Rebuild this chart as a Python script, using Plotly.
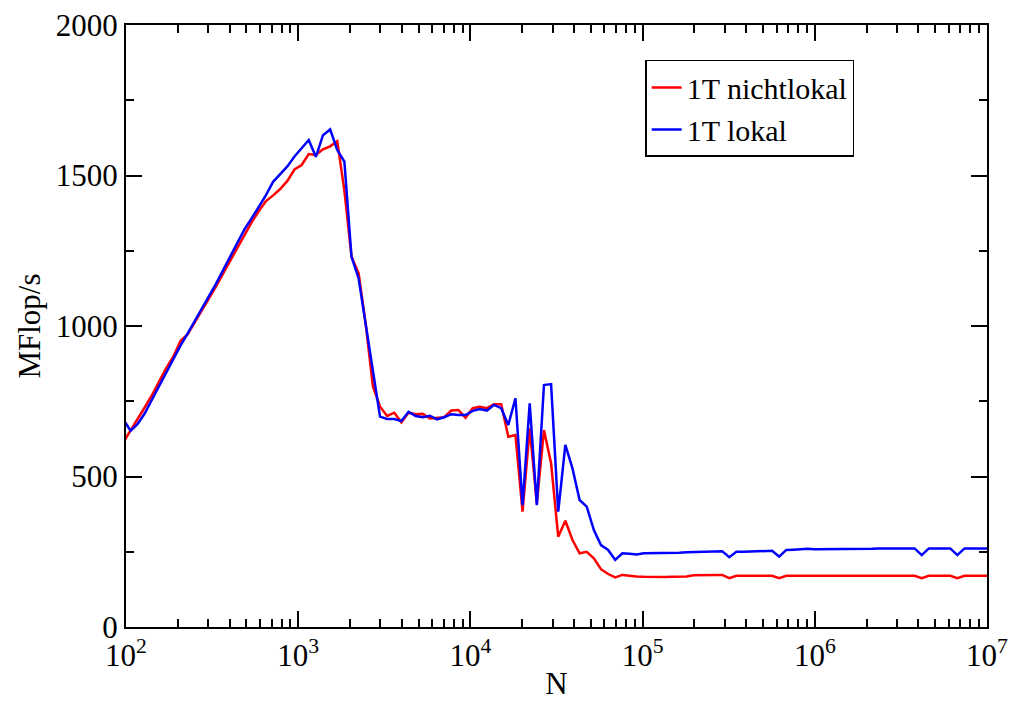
import plotly.graph_objects as go

N = [96.6, 106.3, 116.9, 128.6, 141.4, 155.6, 171.1, 188.2, 207.1, 227.8,
     250.6, 275.6, 303.2, 333.5, 366.8, 403.5, 443.9, 488.3, 537.1, 590.8,
     649.9, 714.9, 786.4, 865.0, 951.5, 1046.7, 1151.3, 1266.5, 1393.1, 1532.4,
     1685.7, 1854.2, 2039.7, 2243.6, 2468.0, 2714.8, 2986.3, 3284.9, 3613.4, 3974.8,
     4372.2, 4809.5, 5290.4, 5819.5, 6401.4, 7041.6, 7745.7, 8520.3, 9372.3, 10309.5,
     11340, 12474, 13722, 15094, 16603, 18264, 20090, 22099, 24309, 26740,
     29414, 32355, 35591, 39150, 43065, 47371, 52108, 57319, 63051, 69356,
     76292, 83921, 92313, 101544, 111699, 122869, 135156, 148671, 163538, 179892,
     197881, 217669, 239436, 263380, 289718, 318690, 350559, 385615, 424176, 466594,
     513253, 564578, 621036, 683140, 751454, 826599, 909259, 1000185, 1100204, 1210224,
     1331246, 1464371, 1610808, 1771889, 1949078, 2143986, 2358384, 2594223, 2853645, 3139010,
     3452911, 3798202, 4178022, 4595825, 5055407, 5560948, 6117043, 6728747, 7401622, 8141784,
     8955963, 9851559, 10836715]

nichtlokal = [614, 652, 690, 730, 770, 815, 860, 898, 950, 972,
              1012, 1050, 1090, 1132, 1175, 1218, 1262, 1305, 1345, 1382,
              1415, 1434, 1455, 1482, 1520, 1535, 1571, 1568, 1587, 1597,
              1614, 1450, 1230, 1175, 1005, 800, 732, 701, 712, 680,
              712, 707, 708, 693, 695, 697, 719, 721, 695, 727,
              732, 727, 740, 740, 632, 638, 383, 660, 411, 654,
              544, 300, 353, 289, 245, 250, 228, 192, 176, 165,
              173, 170, 168, 167, 166, 166, 166, 167, 167, 168,
              172, 173, 173, 173, 173, 162, 170, 170, 170, 170,
              170, 170, 162, 170, 170, 170, 170, 170, 170, 170,
              170, 170, 170, 170, 170, 170, 170, 170, 170, 170,
              170, 170, 162, 170, 170, 170, 170, 162, 170, 170,
              170, 170, 170]

lokal = [689, 652, 675, 710, 755, 800, 850, 892, 935, 975,
         1015, 1057, 1099, 1141, 1185, 1230, 1276, 1322, 1358, 1395,
         1435, 1479, 1505, 1530, 1563, 1592, 1618, 1562, 1634, 1653,
         1585, 1546, 1230, 1158, 1003, 851, 699, 691, 691, 684,
         715, 701, 697, 702, 690, 697, 707, 704, 704, 718,
         724, 719, 738, 727, 671, 760, 405, 743, 405, 804,
         807, 383, 605, 527, 422, 400, 322, 272, 256, 223,
         245, 243, 241, 245, 245, 245, 245, 245, 247, 248,
         249, 250, 251, 252, 252, 232, 250, 250, 251, 252,
         253, 253, 234, 256, 257, 259, 260, 258, 258, 258,
         259, 260, 260, 260, 260, 260, 261, 261, 261, 261,
         261, 261, 239, 261, 261, 261, 261, 239, 261, 261,
         261, 261, 261]

x_tick_vals = [1e2, 1e3, 1e4, 1e5, 1e6, 1e7]
x_tick_text = ["10<sup>2</sup>", "10<sup>3</sup>", "10<sup>4</sup>",
               "10<sup>5</sup>", "10<sup>6</sup>", "10<sup>7</sup>"]
x_minor_vals = [m * 10 ** e for e in range(2, 7) for m in range(2, 10)]

FONT = "Liberation Serif"
FS = 31

fig = go.Figure()
fig.add_trace(go.Scatter(x=N, y=nichtlokal, mode="lines", name="1T nichtlokal",
                         line=dict(color="#ff0000", width=2.5)))
fig.add_trace(go.Scatter(x=N, y=lokal, mode="lines", name="1T lokal",
                         line=dict(color="#0000ff", width=2.5)))

axis_common = dict(showline=True, linecolor="black", linewidth=2, mirror="allticks",
                   ticks="inside", tickcolor="black", tickwidth=1.5, ticklen=16,
                   showgrid=False, zeroline=False, automargin=False,
                   tickfont=dict(family=FONT, size=FS, color="black"))

fig.update_xaxes(type="log", range=[2, 7], tickvals=x_tick_vals, ticktext=x_tick_text,
                 minor=dict(tickvals=x_minor_vals, ticks="inside", ticklen=8,
                            tickcolor="black", tickwidth=1.5, showgrid=False),
                 title=dict(text="N", font=dict(family=FONT, size=FS, color="black"), standoff=0),
                 **axis_common)
fig.update_yaxes(range=[0, 2000], dtick=500, tick0=0,
                 minor=dict(dtick=250, ticks="inside", ticklen=8,
                            tickcolor="black", tickwidth=1.5, showgrid=False),
                 title=dict(text="MFlop/s", font=dict(family=FONT, size=FS, color="black"), standoff=6),
                 **axis_common)

fig.update_layout(
    width=1011, height=706,
    margin=dict(l=126, r=24, t=25, b=79),
    plot_bgcolor="white", paper_bgcolor="white",
    font=dict(family=FONT, size=FS, color="black"),
    legend=dict(x=0.603, y=0.942, xanchor="left", yanchor="top",
                bgcolor="white", bordercolor="black", borderwidth=1.5,
                font=dict(family=FONT, size=30, color="black"),
                tracegroupgap=0, itemwidth=30),
    showlegend=True,
)

fig.write_html("out.html")
